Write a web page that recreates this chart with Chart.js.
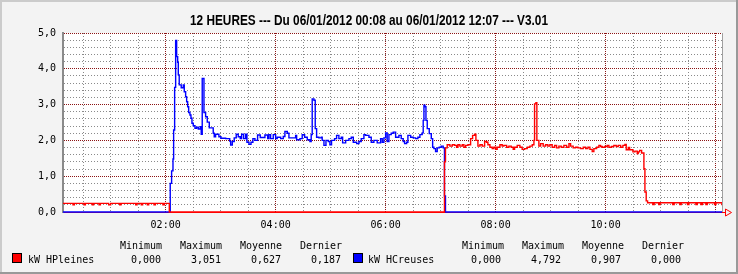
<!DOCTYPE html>
<html><head><meta charset="utf-8">
<script src="https://cdn.jsdelivr.net/npm/chart.js@4/dist/chart.umd.min.js"></script>
<style>html,body{margin:0;padding:0;background:#f3f3f3;}#wrap{width:738px;height:274px;}</style>
</head><body><div id="wrap"><canvas id="c" width="738" height="274"></canvas></div>
<script>
// ---------- DATA ----------
const titleText = "12 HEURES --- Du 06/01/2012 00:08 au 06/01/2012 12:07 --- V3.01";
const xStart = 8, xEnd = 727; // minutes after midnight (00:08 .. 12:07)
const xGridMinutes = [30,60,90,120,150,180,210,240,270,300,330,360,390,420,450,480,510,540,570,600,630,660,690,720];
const xMajorMinutes = [120,240,360,480,600,720];
const xLabelMinutes = [120,240,360,480,600];
const yGridValues = [0,0.2,0.4,0.6,0.8,1,1.2,1.4,1.6,1.8,2,2.2,2.4,2.6,2.8,3,3.2,3.4,3.6,3.8,4,4.2,4.4,4.6,4.8,5];
const yLabelValues = [0,1,2,3,4,5];
const statHeaders = ["Minimum","Maximum","Moyenne","Dernier"];
const seriesNames = ["kW HPleines","kW HCreuses"];
const hpStats = ["0,000","3,051","0,627","0,187"];
const hcStats = ["0,000","4,792","0,907","0,000"];

const hpTimes = [8,18.9,20.4,30.9,32.4,39.9,41.4,47.3,48.8,57.8,60,69.8,71.3,87.3,88.8,93.4,94.9,100,101.5,107.3,108.8,117,118.5,124,
424.2,425.3,427.2,430.1,432.7,435.3,437.4,438.9,441,443.6,445.4,447.3,449.8,452.7,454.9,457.1,458.5,460.7,462.9,465.4,468,470.2,
471.6,473.8,476.3,478.1,480,481.7,484.7,487.2,489,492,494.5,497,499.2,500.7,503.6,506.5,509,511.6,514.5,517.4,520,521.8,522.5,524,525,
527.2,529.1,531.9,534.5,537,539.2,541.7,544.4,546.5,549,551.6,554.5,557.4,560,561.8,564.6,567.3,569.8,572.7,575.6,578.2,580.7,582.9,
585.4,587.2,590.2,592.7,594.5,596.3,599.2,601.8,603.6,606.5,609,611.6,613.8,616.4,618.9,621.1,622.5,624.7,626.2,629.8,632,634.5,
635.6,637.1,639.3,641.8,642.9,644.3,645.8,651.5,653,658,659.5,673.3,674.8,681,682.5,689.4,690.9,698.5,700,704,705.5,709.4,710.9,
718.9,720.4,727];
const hpValues = [0.24,0.20,0.24,0.20,0.24,0.20,0.24,0.20,0.24,0.20,0.24,0.20,0.24,0.20,0.24,0.20,0.24,0.20,0.24,0.20,0.24,0.20,0.24,0,
1.40,1.79,1.88,1.84,1.88,1.86,1.81,1.88,1.84,1.88,1.81,1.86,1.88,2.05,2.14,2.17,2.00,1.84,1.88,1.84,1.97,1.95,
1.88,1.81,1.77,1.81,1.75,1.81,1.88,1.84,1.86,1.81,1.84,1.81,1.75,1.81,1.86,1.81,1.75,1.77,1.81,1.84,1.88,2.00,3.02,3.05,2.00,
1.84,1.91,1.84,1.88,1.84,1.88,1.81,1.86,1.79,1.84,1.81,1.86,1.81,1.91,1.84,1.79,1.81,1.79,1.77,1.81,1.77,1.81,1.75,
1.69,1.77,1.81,1.86,1.83,1.81,1.83,1.86,1.81,1.83,1.86,1.83,1.86,1.81,1.86,1.89,1.74,1.80,1.74,1.68,1.70,1.63,
1.68,1.72,1.65,1.21,0.56,0.31,0.26,0.21,0.26,0.21,0.26,0.21,0.26,0.21,0.26,0.21,0.26,0.21,0.26,0.21,0.26,0.21,0.26,
0.21,0.26,0.19];

const hcTimes = [8,125,126.5,128,128.7,129.8,130.9,132,133.1,133.8,134.8,137,139.2,140.3,141.8,142.9,144,145.1,146.5,147.6,148.7,150.1,
152,153.8,155.6,157.7,158.8,159.9,161.8,163.6,165.4,167.6,171.9,173,174.5,178.1,180.3,185.5,189.9,190.9,192.7,194.8,197,199.2,
201.4,202.9,205.1,207.3,208.7,210.9,213.1,215.2,217.4,220.3,223.2,228.3,231.3,232.7,234.5,237.4,240,241.7,245.5,248.3,250.1,252.7,
254.5,261.8,262.9,266.5,269,271.6,274.5,277.4,278.8,279.9,281.8,283.2,284.7,287.2,289.8,290.8,292.7,294.9,297.4,299.2,301,304.3,
306.5,309,311.6,313.1,316.4,320,322.5,324.7,328.4,330.9,333.4,336.3,338.2,341.8,344.3,347.2,350.8,354.5,356.3,358.1,360,361.7,
363.6,366.1,368.3,370.9,374.5,377,379.2,380.7,382.9,384.3,387.3,390.1,392.7,395.2,397.4,399.9,401,401.8,402.9,404,405.4,407.6,
409.8,411.3,412.7,414.5,416.3,418.5,420.7,422.8,424.2,425.3,727];
const hcValues = [0,0.80,1.15,1.48,2.29,3.48,4.79,4.34,4.18,3.83,3.55,3.47,3.55,3.36,3.22,3.08,2.94,2.78,2.71,2.62,2.48,2.41,
2.34,2.37,2.32,2.38,2.17,3.73,2.78,2.66,2.51,2.35,2.20,2.10,2.17,2.10,2.06,2.05,1.98,1.87,1.97,2.07,2.17,2.10,
2.05,2.17,2.05,2.17,1.95,1.89,1.95,2.05,2.00,2.15,2.08,2.15,2.05,2.16,2.05,2.16,2.05,2.09,2.05,2.11,2.25,2.20,
2.07,2.14,2.02,2.05,2.16,2.09,2.02,1.97,2.16,3.16,3.12,2.33,2.09,2.07,2.09,2.00,1.86,2.00,1.97,1.88,2.00,2.05,
2.14,2.05,2.09,1.93,2.00,2.05,2.09,1.95,1.91,1.97,2.05,2.16,2.14,2.09,1.95,2.00,1.93,2.05,1.95,2.07,2.21,1.97,
2.16,2.20,2.23,2.09,2.14,2.05,1.97,1.91,1.95,2.14,2.09,2.07,2.05,2.09,2.16,2.21,2.56,2.98,2.94,2.56,2.33,2.19,
2.05,1.81,1.77,1.69,1.79,1.81,1.84,1.79,0.45,0,0];

// ---------- HELPERS ----------
const pad2 = n => String(n).padStart(2,'0');
const fmtTime = m => pad2(Math.floor(m/60)) + ':' + pad2(m%60);
const fmtNum = v => v.toFixed(1).replace('.', ',');
const toXY = (ts, vs) => ts.map((t,i) => ({x:t, y:vs[i]}));
const MONO = '"DejaVu Sans Mono", "Liberation Mono", monospace';

// title: bold Helvetica-like at 14px, condensed horizontally to the reference width
const TITLE_W = 358, TITLE_SIZE = 14;
const titleFont = 'bold ' + TITLE_SIZE + 'px "Liberation Sans", Arial, sans-serif';
const mctx = document.createElement('canvas').getContext('2d');
mctx.font = titleFont;
const titleScale = Math.min(1, TITLE_W / mctx.measureText(titleText).width);

const MAJOR_COL = '#8c1414', MINOR_COL = '#8a8a8a';

const decor = {
  id: 'decor',
  beforeDraw(chart) {
    const {ctx, chartArea: a} = chart;
    ctx.save();
    ctx.fillStyle = '#f3f3f3';
    ctx.fillRect(0, 0, chart.width, chart.height);
    ctx.fillStyle = '#ffffff';
    ctx.fillRect(a.left, a.top, a.right - a.left, a.bottom - a.top);
    ctx.restore();
  },
  afterDraw(chart) {
    const {ctx, chartArea: a} = chart;
    const W = chart.width, H = chart.height;
    ctx.save();
    // frame
    ctx.fillStyle = '#cbcbcb';
    ctx.fillRect(0, 0, W, 2); ctx.fillRect(0, 0, 2, H);
    ctx.fillStyle = '#999999';
    ctx.fillRect(0, H - 2, W, 2); ctx.fillRect(W - 2, 0, 2, H);
    // right border of plot
    ctx.strokeStyle = '#a0a0a0'; ctx.lineWidth = 1;
    ctx.beginPath(); ctx.moveTo(Math.round(a.right) + 0.5, a.top); ctx.lineTo(Math.round(a.right) + 0.5, a.bottom); ctx.stroke();
    // x axis extension + arrow
    ctx.strokeStyle = '#ff0000';
    ctx.beginPath(); ctx.moveTo(a.right, a.bottom + 0.5); ctx.lineTo(a.right + 4, a.bottom + 0.5); ctx.stroke();
    ctx.beginPath();
    ctx.moveTo(a.right + 3.5, a.bottom - 3); ctx.lineTo(a.right + 9.5, a.bottom + 0.5); ctx.lineTo(a.right + 3.5, a.bottom + 4); ctx.closePath();
    ctx.stroke();
    // title
    ctx.fillStyle = '#000';
    ctx.font = titleFont;
    ctx.textAlign = 'center'; ctx.textBaseline = 'alphabetic';
    ctx.save();
    ctx.translate(369, 25);
    ctx.scale(titleScale, 1);
    ctx.fillText(titleText, 0, 0);
    ctx.restore();
    // legend
    ctx.font = '10px ' + MONO;
    ctx.textAlign = 'left';
    const hdrX = [[120,180,240,300],[462,522,582,642]];
    const valX = [[131,191,251,311],[471,531,591,651]];
    const boxX = [12, 353], nameX = [28, 368];
    const colors = ['#ff0000', '#0000ff'];
    const stats = [hpStats, hcStats];
    for (let s = 0; s < 2; s++) {
      statHeaders.forEach((h, i) => ctx.fillText(h, hdrX[s][i], 249));
      ctx.fillStyle = colors[s];
      ctx.fillRect(boxX[s], 253, 10, 10);
      ctx.strokeStyle = '#000'; ctx.lineWidth = 1;
      ctx.strokeRect(boxX[s] + 0.5, 253.5, 9, 9);
      ctx.fillStyle = '#000';
      ctx.fillText(seriesNames[s], nameX[s], 263);
      stats[s].forEach((v, i) => ctx.fillText(v, valX[s][i], 263));
    }
    ctx.restore();
  }
};

new Chart(document.getElementById('c'), {
  type: 'line',
  data: {
    datasets: [
      {label: seriesNames[0], data: toXY(hpTimes, hpValues), borderColor: '#ff0000', borderWidth: 1.4,
       stepped: true, pointRadius: 0, fill: false, clip: {left: 0, top: 5, right: 0, bottom: 2}},
      {label: seriesNames[1], data: toXY(hcTimes, hcValues), borderColor: '#0000ff', borderWidth: 1.4,
       stepped: true, pointRadius: 0, fill: false, clip: {left: 0, top: 5, right: 0, bottom: 2}}
    ]
  },
  options: {
    responsive: false, animation: false, devicePixelRatio: 1,
    layout: {padding: {left: 0, right: 16, top: 33, bottom: 0}},
    plugins: {legend: {display: false}, title: {display: false}, tooltip: {enabled: false}},
    scales: {
      x: {
        type: 'linear', min: xStart, max: xEnd,
        afterBuildTicks: s => { s.ticks = xGridMinutes.map(v => ({value: v})); },
        afterFit: s => { s.height = 62; },
        ticks: {autoSkip: false, maxRotation: 0, padding: 7, color: '#000',
          font: {family: MONO, size: 10},
          callback: v => xLabelMinutes.includes(v) ? fmtTime(v) : ''},
        grid: {drawTicks: false, lineWidth: 1,
          color: c => xMajorMinutes.includes(c.tick && c.tick.value) ? MAJOR_COL : MINOR_COL},
        border: {display: true, color: '#ff0000', width: 1,
          dash: c => xMajorMinutes.includes(c.tick && c.tick.value) ? [1, 1] : [1, 2]}
      },
      y: {
        min: 0, max: 5,
        afterBuildTicks: s => { s.ticks = yGridValues.map(v => ({value: v})); },
        afterFit: s => { s.width = 63; },
        ticks: {autoSkip: false, padding: 7, color: '#000',
          font: {family: MONO, size: 10},
          callback: v => yLabelValues.some(l => Math.abs(l - v) < 1e-6) ? fmtNum(v) : ''},
        grid: {drawTicks: false, lineWidth: 1,
          color: c => (c.tick && yLabelValues.some(l => Math.abs(l - c.tick.value) < 1e-6)) ? MAJOR_COL : MINOR_COL},
        border: {display: true, color: '#8a8a8a', width: 2,
          dash: c => (c.tick && yLabelValues.some(l => Math.abs(l - c.tick.value) < 1e-6)) ? [1, 1] : [1, 2]}
      }
    }
  },
  plugins: [decor]
});
</script>
</body></html>
